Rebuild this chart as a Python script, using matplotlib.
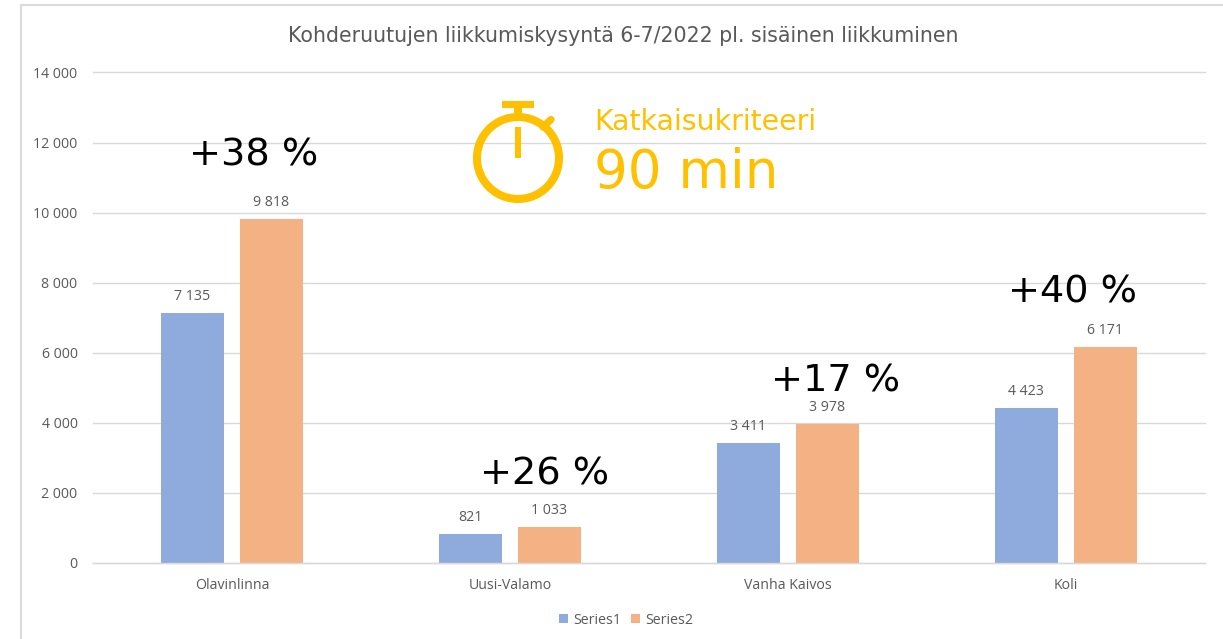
import matplotlib
matplotlib.use("Agg")
import matplotlib.pyplot as plt
from matplotlib.patches import Circle, Rectangle
from matplotlib.lines import Line2D
import numpy as np

categories = ["Olavinlinna", "Uusi-Valamo", "Vanha Kaivos", "Koli"]
series1 = [7135, 821, 3411, 4423]
series2 = [9818, 1033, 3978, 6171]
series_names = ["Series1", "Series2"]
y_ticks = [0, 2000, 4000, 6000, 8000, 10000, 12000, 14000]
change_labels = ["+38 %", "+26 %", "+17 %", "+40 %"]
title = "Kohderuutujen liikkumiskysyntä 6-7/2022 pl. sisäinen liikkuminen"
callout_small = "Katkaisukriteeri"
callout_big = "90 min"

W, H = 1223, 639
BLUE, ORANGE, AMBER = "#8FAADC", "#F4B183", "#FFC000"
GRID, TXT = "#D9D9D9", "#595959"
TICKFONT = ["Open Sans", "DejaVu Sans"]

def fmt(v):
    return f"{v:,}".replace(",", " ")

fig = plt.figure(figsize=(W / 100, H / 100), dpi=100, facecolor="white")
ax = fig.add_axes([92.9 / W, 1 - 563 / H, (1204.9 - 92.9) / W, (563 - 72.5) / H])
ax.set_zorder(1)
x = np.arange(len(categories))
bw, off = 0.224, 0.142
b1 = ax.bar(x - off, series1, bw, color=BLUE, label=series_names[0], zorder=2)
b2 = ax.bar(x + off, series2, bw, color=ORANGE, label=series_names[1], zorder=2)
ax.set_xlim(-0.5, len(categories) - 0.5)
ax.set_ylim(0, 14000)
ax.set_yticks(y_ticks)
ax.set_yticklabels([fmt(v) for v in y_ticks], fontsize=10.2, color=TXT, family=TICKFONT)
ax.set_xticks(x)
ax.set_xticklabels(categories, fontsize=10.2, color=TXT, family=TICKFONT)
ax.tick_params(axis="both", length=0)
ax.tick_params(axis="y", pad=11)
ax.tick_params(axis="x", pad=11)
ax.grid(axis="y", color=GRID, lw=1.0, zorder=0)
for gl in ax.get_ygridlines():
    gl.set_clip_on(False)
ax.set_axisbelow(True)
for s in ["top", "right", "left"]:
    ax.spines[s].set_visible(False)
ax.spines["bottom"].set_color(GRID)
ax.spines["bottom"].set_linewidth(1.0)
for bars in (b1, b2):
    ax.bar_label(bars, labels=[fmt(v) for v in bars.datavalues], padding=6.5,
                 fontsize=10.2, color=TXT, family=TICKFONT)

h, l = ax.get_legend_handles_labels()
fig.legend(h, l, loc="center", bbox_to_anchor=(626 / W, 1 - 620 / H), ncol=2, frameon=False,
           prop={"family": TICKFONT, "size": 10.2}, labelcolor=TXT, handlelength=0.65,
           handleheight=0.65, handletextpad=0.35, columnspacing=0.7)

ov = fig.add_axes([0, 0, 1, 1], facecolor="none")
ov.set_zorder(2)
ov.set_xlim(0, W)
ov.set_ylim(H, 0)
ov.axis("off")
# chart frame
ov.add_line(Line2D([21, 21, W], [H, 5, 5], color=GRID, lw=1.4, solid_joinstyle="miter"))
ov.text(623, 36, title, ha="center", va="center", fontsize=14.8, color=TXT)
# stopwatch
ov.add_patch(Circle((518, 158), 41, fill=False, ec=AMBER, lw=5.8))
ov.add_patch(Rectangle((502, 100.7), 32, 7.6, color=AMBER, lw=0))
ov.add_patch(Rectangle((514, 108), 8, 8, color=AMBER, lw=0))
ov.add_patch(Rectangle((515.2, 127), 5.6, 31, color=AMBER, lw=0))
ov.add_line(Line2D([543, 551], [127, 119.5], color=AMBER, lw=5.2, solid_capstyle="round"))
ov.text(594, 121.5, callout_small, ha="left", va="center", fontsize=20.4, color=AMBER)
ov.text(594, 173, callout_big, ha="left", va="center", fontsize=38.2, color=AMBER)
# change labels
for (px, py), t in zip([(254, 156), (544.5, 474.5), (836, 382), (1073, 292.5)], change_labels):
    ov.text(px, py, t, ha="center", va="center", fontsize=27.5, color="black")

fig.savefig("out.png", dpi=100)
